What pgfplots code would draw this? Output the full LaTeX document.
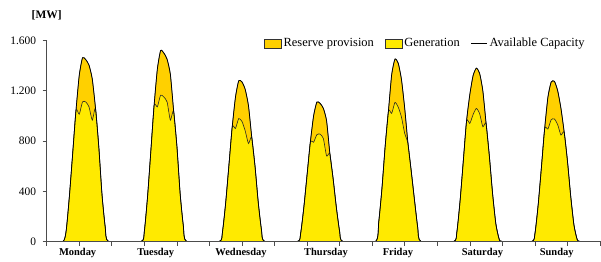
\documentclass[border=0pt]{standalone}
\usepackage{pgfplots}
\usepackage{pgfplotstable}
\pgfplotsset{compat=1.18}
\usepackage{fontspec}
\setmainfont{Liberation Serif}
\definecolor{resv}{RGB}{255,208,0}
\definecolor{gen}{RGB}{255,234,0}

\pgfplotstableread{
x T G
0 0 0
5 0 0
6 88 88
7 368 368
8 706 706
9 1044 1044
10 1323 1013
11 1463 1111
12 1448 1111
13 1404 1072
14 1294 966
15 1060 1060
16 755 755
17 370 370
18 110 110
19 0 0
29 0 0
30 80 80
31 360 360
32 720 720
33 1083 1083
34 1373 1072
35 1520 1165
36 1500 1150
37 1450 1110
38 1330 966
39 1040 1040
40 760 760
41 380 380
42 120 120
43 0 0
53 0 0
54 75 75
55 310 310
56 610 610
57 912 912
58 1150 900
59 1280 979
60 1270 955
61 1210 880
62 1080 780
63 830 830
64 600 600
65 310 310
66 90 90
67 0 0
77 0 0
78 60 60
79 270 270
80 530 530
81 790 790
82 1000 790
83 1110 850
84 1100 855
85 1060 820
86 960 680
87 700 700
88 500 500
89 270 270
90 80 80
91 0 0
101 0 0
102 150 150
103 420 420
104 760 760
105 1040 1040
106 1330 1020
107 1452 1107
108 1420 1070
109 1290 990
110 1060 860
111 780 780
112 560 560
113 330 330
114 110 110
115 0 0
125 0 0
126 70 70
127 320 320
128 640 640
129 960 960
130 1170 940
131 1320 1010
132 1380 1059
133 1340 1020
134 1200 913
135 940 940
136 680 680
137 380 380
138 140 140
139 20 20
140 0 0
149 0 0
150 60 60
151 290 290
152 590 590
153 900 900
154 1150 895
155 1270 970
156 1275 975
157 1200 930
158 1060 847
159 870 870
160 640 640
161 360 360
162 130 130
163 15 15
164 0 0
170 0 0
}\data

\begin{document}
\begin{tikzpicture}
\useasboundingbox (-46.7bp,-20.5bp) rectangle (554.3bp,241.5bp);
\begin{axis}[
  scale only axis, width=553.3bp, height=201bp,
  xmin=0, xmax=170, ymin=0, ymax=1600,
  clip mode=individual,
  axis x line=bottom, axis y line=left,
  axis line style={-, black!70, line width=0.6bp},
  axis on top,
  xtick={0,10,...,170}, xticklabels={},
  extra x ticks={9.5,33.5,59.7,85.8,107.9,133.9,156.7},
  extra x tick labels={Monday,Tuesday,Wednesday,Thursday,Friday,Saturday,Sunday},
  extra x tick style={major tick length=0pt, tick label style={font=\bfseries\fontsize{10.5}{12}\selectfont, yshift=-3bp}},
  ytick={0,400,...,1600},
  tick align=outside, major tick length=4bp,
  tick style={black!70, line width=0.6bp},
  /pgf/number format/assume math mode=true,
  /pgf/number format/1000 sep={.},
  yticklabel style={font=\fontsize{11.5}{13}\selectfont, xshift=-3bp},
  legend style={draw=none, fill=none, at={(axis description cs:0.976,0.986)}, anchor=east,
    legend columns=3, inner sep=0pt, font=\fontsize{12.5}{14}\selectfont,
    /tikz/every even column/.append style={column sep=9bp}},
  legend cell align=left,
]
\addplot[fill=resv, draw=black!80, line width=0.55bp, smooth, tension=0.35,
  legend image code/.code={\draw[fill=resv, draw=black!80, line width=0.55bp] (0bp,-4.5bp) rectangle (17bp,4.5bp);}]
  table[x=x,y=T]{\data} \closedcycle;
\addlegendentry{Reserve provision}
\addplot[fill=gen, draw=black!85, line width=0.6bp, smooth, tension=0.35,
  legend image code/.code={\draw[fill=gen, draw=black!80, line width=0.55bp] (0bp,-4.5bp) rectangle (17bp,4.5bp);}]
  table[x=x,y=G]{\data} \closedcycle;
\addlegendentry{Generation}
\addplot[black, line width=0.75bp, smooth, tension=0.35,
  legend image code/.code={\draw[black, line width=0.9bp] (0bp,0bp) -- (16bp,0bp);}]
  table[x=x,y=T]{\data};
\addlegendentry{Available Capacity}
\node[font=\bfseries\fontsize{11.5}{13}\selectfont] at (axis description cs:0,1) [yshift=25.5bp] {[MW]};
\end{axis}
\end{tikzpicture}
\end{document}
